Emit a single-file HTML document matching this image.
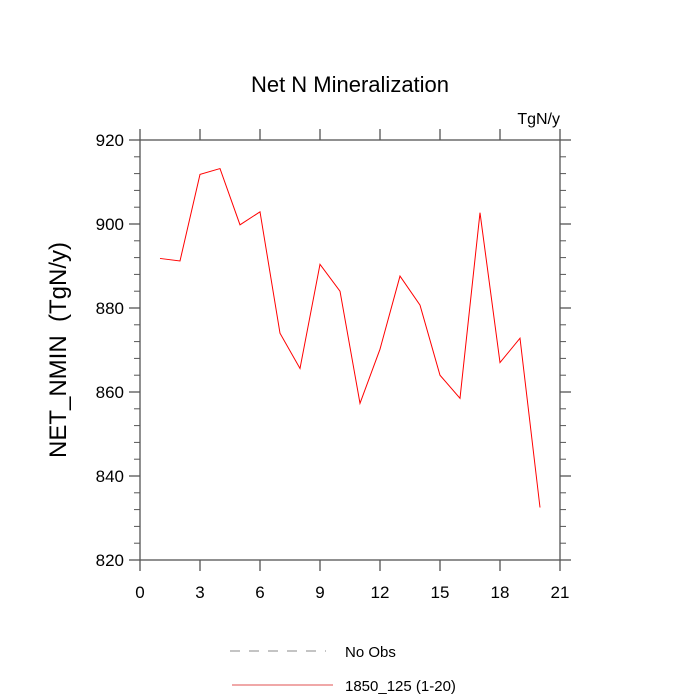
<!DOCTYPE html>
<html><head><meta charset="utf-8"><style>
body{margin:0;background:#fff}
svg{display:block;font-family:"Liberation Sans",sans-serif}
</style></head><body>
<svg id="chart" width="700" height="700">
<text x="350" y="92" text-anchor="middle" font-size="22">Net N Mineralization</text>
<text x="560" y="124" text-anchor="end" font-size="16">TgN/y</text>
<text transform="translate(66,350) rotate(-90)" text-anchor="middle" font-size="24">NET_NMIN&#160; (TgN/y)</text>
<g id="axes"></g>
<g id="series"></g>
<g>
<line x1="230" y1="651" x2="326" y2="651" stroke="#888" stroke-dasharray="10,9"/>
<text x="345" y="657" font-size="15">No Obs</text>
<line x1="232" y1="685" x2="333" y2="685" stroke="#e05050"/>
<text x="345" y="691" font-size="15">1850_125 (1-20)</text>
</g>
</svg>
<script>
const years = [1,2,3,4,5,6,7,8,9,10,11,12,13,14,15,16,17,18,19,20];
const netNmin = [891.8,891.2,911.8,913.2,899.8,902.9,874.0,865.6,890.4,884.0,857.3,870.2,887.6,880.7,864.0,858.5,902.7,867.0,872.8,832.5];
const xTicks = [0,3,6,9,12,15,18,21];
const yTicks = [820,840,860,880,900,920];
const L=140,R=560,T=140,B=560,xMin=0,xMax=21,yMin=820,yMax=920;
const sx=v=>L+(v-xMin)/(xMax-xMin)*(R-L);
const sy=v=>B-(v-yMin)/(yMax-yMin)*(B-T);
const NS="http://www.w3.org/2000/svg";
const axes=document.getElementById('axes');
function mk(tag,attrs,parent){const e=document.createElementNS(NS,tag);for(const k in attrs)e.setAttribute(k,attrs[k]);parent.appendChild(e);return e;}
const frame=mk('rect',{x:L,y:T,width:R-L,height:B-T,fill:'none',stroke:'#555','stroke-width':1.3},axes);


xTicks.forEach(v=>{
  const x=sx(v);
  const t1=mk('line',{x1:x,y1:B,x2:x,y2:B+11,stroke:'#555','stroke-width':1.3},axes);
  
  
  const t2=mk('line',{x1:x,y1:T,x2:x,y2:T-11,stroke:'#555','stroke-width':1.3},axes);
  
  
  const lb=mk('text',{x:x,y:B+38,'text-anchor':'middle','font-size':17},axes);
  lb.textContent=v;
  
  
});
for(let v=yMin;v<=yMax;v+=4){
  const y=sy(v);const major=(v-yMin)%20===0;const len=major?11:6;
  const a=mk('line',{x1:L,y1:y,x2:L-len,y2:y,stroke:'#555','stroke-width':major?1.3:1},axes);
  
  
  const b=mk('line',{x1:R,y1:y,x2:R+len,y2:y,stroke:'#555','stroke-width':major?1.3:1},axes);
  
  
}
yTicks.forEach(v=>{
  const lb=mk('text',{x:L-16,y:sy(v)+6,'text-anchor':'end','font-size':17},axes);
  lb.textContent=v;
  
  
});
const pts=years.map((x,i)=>sx(x)+','+sy(netNmin[i])).join(' ');
const pl=mk('polyline',{points:pts,fill:'none',stroke:'#ff0000','stroke-width':1},document.getElementById('series'));


</script>
</body></html>
